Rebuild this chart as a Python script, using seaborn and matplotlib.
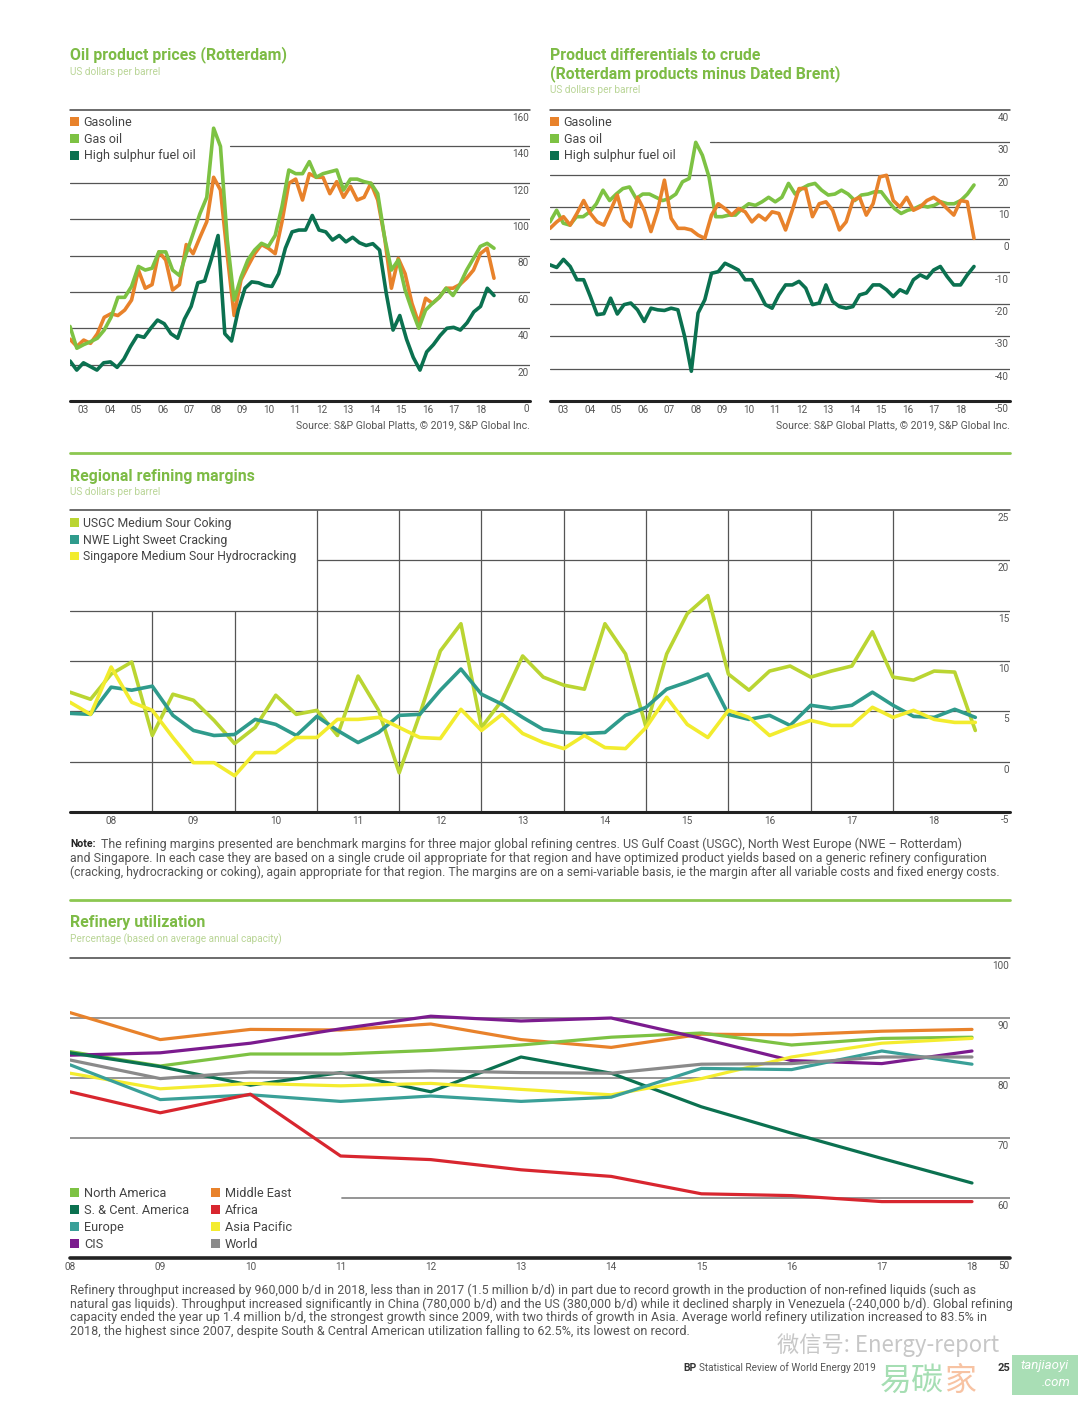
import numpy as np
import pandas as pd
import seaborn as sns
import matplotlib.pyplot as plt
from matplotlib.patches import Patch, Rectangle
from matplotlib.lines import Line2D
from matplotlib.transforms import offset_copy

# Oil product prices (Rotterdam), US dollars per barrel, quarterly 2003-2018
gasoline_price = [34, 30, 33.5, 31.7, 37, 46, 48, 47, 50, 55.5, 72, 62, 64, 82, 77.5, 61,
                  64, 86, 81, 90, 98.6, 123, 116, 80, 47, 66.5, 74, 81, 86, 84, 81, 98.6,
                  119.7, 122, 110.5, 125, 123, 123, 114, 120.6, 112, 118, 110.5, 112, 119.7, 110.5,
                  90, 62, 78.4, 70, 53.7, 42.7, 56.5, 53.7, 57, 62, 62, 64, 67.5, 72, 81, 84, 67.5]
gasoil_price = [41, 29, 31, 32.6, 34.5, 39, 46, 57, 57, 63, 74, 72, 73, 82, 82, 72,
                69, 81, 92, 103, 112, 150, 140, 88.5, 55.5, 68, 77.5, 83, 86.7, 85, 91, 107,
                127, 125, 125, 131.6, 123, 125, 126, 127, 116, 122, 122, 120.6, 119.7, 114,
                90, 72, 77.5, 61, 50, 40, 50, 53.7, 57, 62, 58, 64, 72, 78.4, 85, 86.7, 84]
hsfo_price = [22, 17, 21, 19, 17, 21, 21.5, 18.5, 23, 30, 36, 35, 40, 44.5, 42.5, 37,
              34.5, 45, 52, 65, 66, 78, 91, 37, 33, 50, 62, 65.5, 65, 63.5, 63, 70,
              84, 93, 94, 94, 102, 94, 93, 88.5, 91, 87.5, 90, 87, 85.5, 86.5, 83, 59,
              39, 47, 34, 24, 17, 27, 31, 36, 40, 40.5, 39, 43, 49, 52, 62, 58]

# Product differentials to crude (Rotterdam products minus Dated Brent)
gasoline_diff = [3.4, 5.4, 7, 4.4, 8, 12, 8, 5.4, 4.4, 9, 13.7, 6, 3.9, 13, 9, 2.4,
                 9, 18.3, 6.5, 3.4, 3.4, 2.9, 1.3, 0.3, 7.5, 11, 9.5, 7.5, 9.5, 8.5, 5.4, 7.5,
                 6, 8.5, 8, 2.9, 9, 15.7, 15.7, 7, 11, 11.6, 9, 2.9, 5.4, 12, 13, 7.5,
                 11, 19.3, 19.8, 12, 10, 13, 9, 10, 12, 13, 11.6, 9.5, 7.5, 12, 11.6, 0.3]
gasoil_diff = [5.4, 9, 5, 4.4, 7, 7, 8.5, 11, 15.2, 12, 14, 15.7, 16.2, 12.6, 14, 14,
               13, 12, 12.6, 14, 17.8, 18.8, 30, 26, 19.3, 7, 7, 7.5, 7.5, 9.5, 11, 10.5,
               11.6, 13, 11.6, 13, 17.3, 14, 15.7, 16.8, 17.3, 15.2, 13.7, 14, 15.2, 14, 12, 13.7,
               14, 14.7, 14.7, 12, 9.5, 8, 9, 9.5, 10.5, 10, 10.5, 11.6, 11, 11, 12, 14, 16.8]
hsfo_diff = [-7.9, -8.7, -6.2, -8.4, -12.5, -12.5, -17.7, -23.3, -23, -18.2, -23.1, -20.2,
             -19.7, -21.8, -25.4, -21.3, -21.8, -22, -21.3, -21.8, -30, -40.8, -22.8, -18.7,
             -10.5, -10, -7.4, -8.4, -9.5, -12.5, -12.5, -16.1, -20.2, -21.3, -17.2, -14.1,
             -14.1, -13, -15.1, -20.2, -19.7, -14.1, -19.2, -20.8, -21.3, -20.8, -17.2, -16.6,
             -14.1, -14.1, -15.6, -17.7, -15.6, -16.6, -12.5, -11, -12, -9.5, -8.4, -11.5,
             -14.1, -14.1, -11, -8.4]

# Regional refining margins, US dollars per barrel, quarterly 2008-2018
usgc_margin = [6.9, 6.2, 8.7, 9.9, 2.6, 6.7, 6.1, 4.1, 1.8, 3.4, 6.6, 4.7, 5.1, 2.6, 8.5,
               5.1, -1.1, 4.7, 11, 13.7, 3.4, 6.1, 10.5, 8.4, 7.6, 7.2, 13.7, 10.7, 3.4, 10.7,
               14.7, 16.5, 8.7, 7.1, 9, 9.5, 8.4, 9, 9.5, 12.9, 8.4, 8.1, 9, 8.9, 3.1]
nwe_margin = [4.8, 4.7, 7.4, 7.1, 7.5, 4.6, 3.1, 2.6, 2.7, 4.2, 3.7, 2.6, 4.5, 3.1, 1.9,
              2.9, 4.6, 4.7, 7.1, 9.2, 6.7, 5.7, 4.4, 3.2, 2.9, 2.8, 2.9, 4.6, 5.4, 7.2,
              7.9, 8.7, 4.7, 4.2, 4.6, 3.6, 5.6, 5.3, 5.6, 6.9, 5.6, 4.5, 4.4, 5.2, 4.4]
singapore_margin = [5.9, 4.7, 9.4, 5.9, 5.1, 2.4, -0.1, -0.1, -1.4, 0.9, 0.9, 2.4, 2.4, 4.2, 4.2,
                    4.4, 3.4, 2.4, 2.3, 5.2, 3.1, 4.7, 2.8, 1.9, 1.3, 2.6, 1.4, 1.3, 3.4, 6.4,
                    3.7, 2.4, 5.1, 4.4, 2.6, 3.4, 4.1, 3.6, 3.6, 5.4, 4.4, 5.1, 4.2, 3.9, 3.9]

# Refinery utilization, percentage, annual 2008-2018
util_years = [2008, 2009, 2010, 2011, 2012, 2013, 2014, 2015, 2016, 2017, 2018]
north_america = [84.4, 82, 84, 84, 84.6, 85.5, 86.8, 87.5, 85.5, 86.6, 86.8]
sc_america = [84.2, 81.9, 78.8, 80.9, 77.7, 83.5, 80.8, 75.2, 70.8, 66.6, 62.5]
europe = [82.2, 76.4, 77.2, 76.1, 77, 76.1, 76.8, 81.6, 81.4, 84.5, 82.3]
cis = [83.8, 84.2, 85.8, 88.2, 90.3, 89.5, 90, 86.6, 82.9, 82.4, 84.5]
middle_east = [90.9, 86.4, 88.1, 88, 89, 86.4, 85.1, 87.3, 87.2, 87.8, 88.1]
africa = [77.7, 74.2, 77.3, 67, 66.4, 64.7, 63.6, 60.7, 60.4, 59.4, 59.4]
asia_pacific = [80.8, 78.2, 79.1, 78.7, 79.1, 78.1, 77.2, 79.9, 83.5, 85.8, 86.6]
world = [83, 79.9, 81, 80.8, 81.2, 80.9, 80.8, 82.3, 82.4, 83.5, 83.5]

top_year_labels = ['03', '04', '05', '06', '07', '08', '09', '10', '11', '12', '13', '14',
                   '15', '16', '17', '18']
mid_year_labels = ['08', '09', '10', '11', '12', '13', '14', '15', '16', '17', '18']
price_ticks = [160, 140, 120, 100, 80, 60, 40, 20, 0]
diff_ticks = [40, 30, 20, 10, 0, -10, -20, -30, -40, -50]
margin_ticks = [25, 20, 15, 10, 5, 0, -5]
util_ticks = [100, 90, 80, 70, 60, 50]

ORANGE = '#e8822b'
LGREEN = '#7dc243'
DGREEN = '#0b7150'
TITLE_GREEN = '#7dbb45'
SUB_GREEN = '#b9d596'
GRID = '#555555'
TXT = '#555555'

W, H = 1080, 1407
sns.set_style('white')
plt.rcParams['font.family'] = ['Roboto', 'DejaVu Sans']

fig = plt.figure(figsize=(W / 100, H / 100), dpi=100)
fig.patch.set_facecolor('white')
renderer = fig.canvas.get_renderer()


def px_axes(x0, y0, x1, y1):
    ax = fig.add_axes([x0 / W, 1 - y1 / H, (x1 - x0) / W, (y1 - y0) / H])
    ax.set_facecolor('none')
    sns.despine(ax=ax, left=True, bottom=True)
    ax.set_yticks([])
    return ax


def ftext(x, y, s, **kw):
    kw.setdefault('va', 'center')
    return fig.text(x / W, 1 - y / H, s, **kw)


def fit_text(x, y, s, right, **kw):
    t = ftext(x, y, s, **kw)
    w = t.get_window_extent(renderer).width
    t.set_fontsize(t.get_fontsize() * (right - x) / w)
    return t


def long_frame(xs_list, values_list, names):
    frames = []
    for xs, vals, name in zip(xs_list, values_list, names):
        frames.append(pd.DataFrame({'x': xs, 'value': vals, 'series': name}))
    return pd.concat(frames, ignore_index=True)


def right_labels(ax, ticks, fs=7.2):
    tr = offset_copy(ax.get_yaxis_transform(), fig=fig, x=-1, y=-3, units='dots')
    for v in ticks:
        ax.text(1.0, v, str(v), transform=tr, ha='right', va='top', fontsize=fs,
                color=TXT, clip_on=False)


def square_legend(ax, names, colors, x, y, ncol=1, fs=9, colsp=1.5, spacing=0.3):
    handles = [Patch(facecolor=c, edgecolor='none') for c in colors]
    ax.legend(handles, names, loc='upper left', bbox_to_anchor=(x / W, 1 - y / H),
              bbox_transform=fig.transFigure, frameon=False, ncol=ncol, fontsize=fs,
              handlelength=0.7, handleheight=0.7, handletextpad=0.4, labelspacing=spacing,
              borderpad=0, borderaxespad=0, columnspacing=colsp, labelcolor='#444444')


def section_line(y):
    fig.add_artist(Line2D([70 / W, 1010 / W], [1 - y / H, 1 - y / H], color='#8cc751', lw=2))


TITLE_FS = 11.4
SUB_FS = 7.2

# ---------------- Oil product prices (Rotterdam) ----------------
ftext(70, 55, 'Oil product prices (Rotterdam)', fontsize=TITLE_FS, fontweight='bold',
      color=TITLE_GREEN)
ftext(70, 72, 'US dollars per barrel', fontsize=SUB_FS, color=SUB_GREEN)

ax1 = px_axes(70, 110, 530, 401)
df1 = long_frame([np.linspace(2003, 2019, len(gasoline_price)),
                  np.linspace(2003, 2019, len(gasoil_price)),
                  np.linspace(2003, 2019, len(hsfo_price))],
                 [gasoline_price, gasoil_price, hsfo_price],
                 ['Gasoline', 'Gas oil', 'High sulphur fuel oil'])
for v in price_ticks[1:-1]:
    ax1.axhline(v, xmin=(230 - 70) / 460 if v == 140 else 0, color=GRID, lw=0.9, zorder=0)
ax1.axhline(160, color='#444444', lw=1.1, zorder=0, clip_on=False)
sns.lineplot(data=df1, x='x', y='value', hue='series',
             hue_order=['Gasoline', 'Gas oil', 'High sulphur fuel oil'],
             palette={'Gasoline': ORANGE, 'Gas oil': LGREEN, 'High sulphur fuel oil': DGREEN},
             linewidth=2.6, legend=False, estimator=None, ax=ax1)
ax1.axhline(0, color='#222222', lw=2.2, clip_on=False)
ax1.set_xlim(2003, 2003 + 460 / 26.5)
ax1.set_ylim(0, 160)
right_labels(ax1, price_ticks)
ax1.set_xticks(np.arange(2003.5, 2019, 1.0), top_year_labels)
ax1.tick_params(axis='x', length=0, pad=3, labelsize=7.2, labelcolor=TXT)
ax1.set_xlabel('')
ax1.set_ylabel('')
square_legend(ax1, ['Gasoline', 'Gas oil', 'High sulphur fuel oil'], [ORANGE, LGREEN, DGREEN],
              70, 116)
ftext(530, 425, 'Source: S&P Global Platts, \u00a9 2019, S&P Global Inc.', fontsize=7.6,
      color=TXT, ha='right')

# ---------------- Product differentials to crude ----------------
ftext(550, 55, 'Product differentials to crude', fontsize=TITLE_FS, fontweight='bold',
      color=TITLE_GREEN)
ftext(550, 74, '(Rotterdam products minus Dated Brent)', fontsize=TITLE_FS, fontweight='bold',
      color=TITLE_GREEN)
ftext(550, 90, 'US dollars per barrel', fontsize=SUB_FS, color=SUB_GREEN)

ax2 = px_axes(550, 110, 1010, 401)
df2 = long_frame([np.linspace(2003, 2019, len(gasoline_diff)),
                  np.linspace(2003, 2019, len(gasoil_diff)),
                  np.linspace(2003, 2019, len(hsfo_diff))],
                 [gasoline_diff, gasoil_diff, hsfo_diff],
                 ['Gasoline', 'Gas oil', 'High sulphur fuel oil'])
for v in diff_ticks[1:-1]:
    ax2.axhline(v, xmin=(710 - 550) / 460 if v == 30 else 0, color=GRID, lw=0.9, zorder=0)
ax2.axhline(40, color='#444444', lw=1.1, zorder=0, clip_on=False)
sns.lineplot(data=df2, x='x', y='value', hue='series',
             hue_order=['Gas oil', 'Gasoline', 'High sulphur fuel oil'],
             palette={'Gasoline': ORANGE, 'Gas oil': LGREEN, 'High sulphur fuel oil': DGREEN},
             linewidth=2.6, legend=False, estimator=None, ax=ax2)
ax2.axhline(-50, color='#222222', lw=2.2, clip_on=False)
ax2.set_xlim(2003, 2003 + 460 / 26.5)
ax2.set_ylim(-50, 40)
right_labels(ax2, diff_ticks)
ax2.set_xticks(np.arange(2003.5, 2019, 1.0), top_year_labels)
ax2.tick_params(axis='x', length=0, pad=3, labelsize=7.2, labelcolor=TXT)
ax2.set_xlabel('')
ax2.set_ylabel('')
square_legend(ax2, ['Gasoline', 'Gas oil', 'High sulphur fuel oil'], [ORANGE, LGREEN, DGREEN],
              550, 116)
ftext(1010, 425, 'Source: S&P Global Platts, \u00a9 2019, S&P Global Inc.', fontsize=7.6,
      color=TXT, ha='right')

# ---------------- Regional refining margins ----------------
section_line(453)
ftext(70, 476, 'Regional refining margins', fontsize=TITLE_FS, fontweight='bold',
      color=TITLE_GREEN)
ftext(70, 492, 'US dollars per barrel', fontsize=SUB_FS, color=SUB_GREEN)

ax3 = px_axes(70, 510, 1010, 812)
x_m = 2008 + (1010 - 70) / 82.3
q_x = np.linspace(2008, 2019, len(usgc_margin))
df3 = long_frame([q_x, q_x, q_x], [usgc_margin, nwe_margin, singapore_margin],
                 ['USGC', 'NWE', 'Singapore'])
for v in [15, 10, 5, 0]:
    ax3.axhline(v, color=GRID, lw=0.9, zorder=0)
ax3.axhline(20, xmin=3 / (x_m - 2008), color=GRID, lw=0.9, zorder=0)
ax3.axhline(25, color='#444444', lw=1.1, zorder=0, clip_on=False)
for yr in range(2009, 2019):
    ax3.vlines(yr, -5, 15 if yr < 2011 else 25, color=GRID, lw=0.9, zorder=0)
sns.lineplot(data=df3, x='x', y='value', hue='series', hue_order=['USGC', 'NWE', 'Singapore'],
             palette={'USGC': '#bad532', 'NWE': '#2f9b8c', 'Singapore': '#f2ec2e'},
             linewidth=2.6, legend=False, estimator=None, ax=ax3)
ax3.axhline(-5, color='#222222', lw=2.2, clip_on=False)
ax3.set_xlim(2008, x_m)
ax3.set_ylim(-5, 25)
right_labels(ax3, margin_ticks)
ax3.set_xticks(np.arange(2008.5, 2019, 1.0), mid_year_labels)
ax3.tick_params(axis='x', length=0, pad=3, labelsize=7.2, labelcolor=TXT)
ax3.set_xlabel('')
ax3.set_ylabel('')
square_legend(ax3, ['USGC Medium Sour Coking', 'NWE Light Sweet Cracking',
                    'Singapore Medium Sour Hydrocracking'],
              ['#bad532', '#2f9b8c', '#f2ec2e'], 70, 517, fs=8.8)

note_lines = [
    'The refining margins presented are benchmark margins for three major global refining centres. '
    'US Gulf Coast (USGC), North West Europe (NWE \u2013 Rotterdam)',
    'and Singapore. In each case they are based on a single crude oil appropriate for that region '
    'and have optimized product yields based on a generic refinery configuration',
    '(cracking, hydrocracking or coking), again appropriate for that region. The margins are on a '
    'semi-variable basis, ie the margin after all variable costs and fixed energy costs.',
]
ftext(70, 844, 'Note:', fontsize=7.6, fontweight='bold', color='#222222')
fit_text(101, 844, note_lines[0], 960, fontsize=7.6, color=TXT)
fit_text(70, 858, note_lines[1], 986, fontsize=7.6, color=TXT)
fit_text(70, 872, note_lines[2], 1004, fontsize=7.6, color=TXT)

# ---------------- Refinery utilization ----------------
section_line(900)
ftext(70, 922, 'Refinery utilization', fontsize=TITLE_FS, fontweight='bold', color=TITLE_GREEN)
ftext(70, 939, 'Percentage (based on average annual capacity)', fontsize=SUB_FS, color=SUB_GREEN)

ax4 = px_axes(70, 958, 1010, 1258)
util_names = ['North America', 'S. & Cent. America', 'Europe', 'CIS', 'Middle East', 'Africa',
              'Asia Pacific', 'World']
util_vals = [north_america, sc_america, europe, cis, middle_east, africa, asia_pacific, world]
util_colors = ['#7dc243', '#0b7150', '#3aa098', '#7b1b8e', '#e8822b', '#d8262f', '#f4ec2f',
               '#8a8a8a']
df4 = long_frame([util_years] * 8, util_vals, util_names)
x_u = 2008 + (1010 - 70) / 90.2
for v in [90, 80, 70]:
    ax4.axhline(v, color='#8c8c8c', lw=1.3, zorder=0)
ax4.axhline(60, xmin=(342 - 70) / 940, color='#8c8c8c', lw=1.3, zorder=0)
ax4.axhline(100, color='#444444', lw=1.1, zorder=0, clip_on=False)
draw_order = ['Middle East', 'North America', 'CIS', 'S. & Cent. America', 'Asia Pacific',
              'Europe', 'World', 'Africa']
sns.lineplot(data=df4, x='x', y='value', hue='series', hue_order=draw_order,
             palette=dict(zip(util_names, util_colors)),
             linewidth=2.3, legend=False, estimator=None, ax=ax4)
ax4.axhline(50, color='#222222', lw=2.6, clip_on=False)
ax4.set_xlim(2008, x_u)
ax4.set_ylim(50, 100)
right_labels(ax4, util_ticks)
ax4.set_xticks(util_years, mid_year_labels)
ax4.tick_params(axis='x', length=0, pad=3, labelsize=7.2, labelcolor=TXT)
ax4.set_xlabel('')
ax4.set_ylabel('')
square_legend(ax4, util_names, util_colors, 70, 1187, ncol=2, fs=9.2, colsp=1.7)

para_lines = [
    'Refinery throughput increased by 960,000 b/d in 2018, less than in 2017 (1.5 million b/d) in part '
    'due to record growth in the production of non-refined liquids (such as',
    'natural gas liquids). Throughput increased significantly in China (780,000 b/d) and the US '
    '(380,000 b/d) while it declined sharply in Venezuela (-240,000 b/d). Global refining',
    'capacity ended the year up 1.4 million b/d, the strongest growth since 2009, with two thirds of '
    'growth in Asia. Average world refinery utilization increased to 83.5% in',
    '2018, the highest since 2007, despite South & Central American utilization falling to 62.5%, '
    'its lowest on record.',
]
for y, line, right in zip([1290, 1304, 1318, 1332], para_lines, [978, 1008, 978, 685]):
    fit_text(70, y, line, right, fontsize=7.6, color=TXT)

# footer and watermark
ftext(683, 1368, 'BP', fontsize=7.5, fontweight='bold', color='#333333')
ftext(699, 1368, 'Statistical Review of World Energy 2019', fontsize=7.2, color=TXT)
ftext(1010, 1368, '25', fontsize=8, fontweight='bold', color='#333333', ha='right')
ftext(777, 1345, '\u5fae\u4fe1\u53f7: Energy-report', fontsize=16, color='#9a9a9a', alpha=0.55,
      family=['Noto Sans CJK SC', 'DejaVu Sans'])
ftext(880, 1381, '\u6613\u78b3', fontsize=23, color='#8fd6a0', alpha=0.8,
      family=['Noto Sans CJK SC', 'DejaVu Sans'])
ftext(944, 1381, '\u5bb6', fontsize=23, color='#f6b48c', alpha=0.8,
      family=['Noto Sans CJK SC', 'DejaVu Sans'])
fig.add_artist(Rectangle((1012 / W, 1 - 1395 / H), 66 / W, 40 / H, transform=fig.transFigure,
                         facecolor='#9ad9a8', edgecolor='none', alpha=0.85))
ftext(1045, 1366, 'tanjiaoyi', fontsize=9.5, color='white', ha='center', style='italic')
ftext(1056, 1383, '.com', fontsize=9.5, color='white', ha='center', style='italic')

fig.savefig('out.png', dpi=100, facecolor='white')
